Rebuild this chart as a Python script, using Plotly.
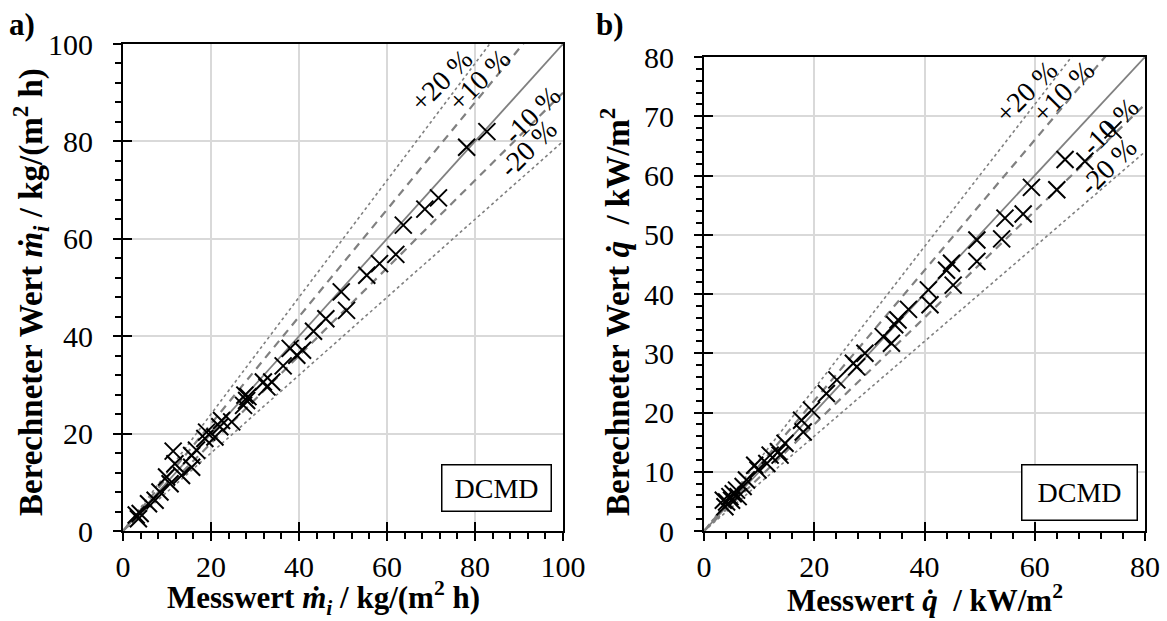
import plotly.graph_objects as go

# ---------------- data ----------------
# a) mass flux, measured vs calculated  (kg/(m2 h))
mi_measured = [82.7, 78.1, 71.7, 68.6, 63.7, 62.0, 58.3, 55.4, 49.6, 50.8, 46.1, 43.3,
               40.8, 38.0, 39.5, 36.4, 32.7, 31.9, 27.7, 28.1, 27.4, 28.4, 24.7, 22.4,
               22.0, 20.9, 19.0, 18.6, 16.7, 15.6, 15.6, 11.4, 11.8, 9.9, 10.7, 13.3,
               8.4, 7.3, 5.8, 3.9, 3.5, 3.0, 33.8]
mi_calculated = [82.0, 78.8, 68.4, 66.1, 62.8, 56.8, 54.9, 52.5, 49.1, 45.3, 43.6, 41.0,
                 37.1, 37.5, 36.1, 33.9, 29.6, 30.6, 27.9, 26.8, 25.8, 27.6, 22.4, 22.7,
                 21.4, 19.3, 20.3, 19.0, 16.6, 15.5, 13.1, 16.4, 13.8, 11.1, 9.7, 11.4,
                 8.0, 6.3, 5.6, 3.6, 2.5, 3.3, 30.6]

# b) heat flux, measured vs calculated  (kW/m2)
q_measured = [74.2, 69.1, 65.5, 64.0, 59.4, 57.9, 54.6, 54.0, 49.5, 49.5, 44.9, 44.0,
              45.2, 40.7, 41.0, 37.1, 35.2, 34.6, 34.0, 32.5, 29.2, 27.7, 27.1, 24.1,
              22.2, 19.5, 17.7, 18.0, 14.7, 13.5, 13.8, 12.0, 11.4, 9.8, 9.2, 7.7,
              7.1, 5.9, 5.3, 5.0, 4.1, 3.8, 6.2, 4.7, 3.5]
q_calculated = [67.7, 62.4, 62.7, 57.6, 58.0, 53.5, 52.8, 49.3, 49.1, 45.5, 45.2, 44.0,
                41.5, 40.7, 38.2, 37.4, 35.6, 34.8, 31.7, 32.8, 30.0, 27.7, 28.3, 25.5,
                23.2, 20.4, 18.7, 16.7, 14.8, 13.4, 12.8, 12.8, 11.4, 10.3, 11.1, 8.6,
                7.5, 6.9, 6.3, 5.2, 4.9, 4.1, 5.8, 5.8, 5.2]

# deviation bands
band_factors = [1.2, 1.1, 1.0, 0.9, 0.8]
band_labels = ["+20 %", "+10 %", None, "-10 %", "-20 %"]
range_a = [0, 100]
range_b = [0, 80]

# label anchor points (data coords) for band texts
label_pos_a = {"+20 %": (72.3, 92.6), "+10 %": (80.8, 92.6), "-10 %": (93.0, 85.5), "-20 %": (92.0, 78.6)}
label_pos_b = {"+20 %": (58.5, 74.2), "+10 %": (65.2, 74.2), "-10 %": (73.6, 68.3), "-20 %": (73.3, 61.5)}

FONT = "Liberation Serif, Times New Roman, serif"
GRAY = "#808080"

fig = go.Figure()

def band_style(k):
    if k == 1.0:
        return dict(color=GRAY, width=1.8, dash="solid")
    if abs(k - 1.0) < 0.15:
        return dict(color=GRAY, width=2.2, dash="8px,6px")
    return dict(color=GRAY, width=1.6, dash="dot")

for xa, ya, rng in (("x", "y", range_a), ("x2", "y2", range_b)):
    for k in band_factors:
        fig.add_trace(go.Scatter(x=[rng[0], rng[1]], y=[k * rng[0], k * rng[1]],
                                 mode="lines", line=band_style(k), xaxis=xa, yaxis=ya,
                                 hoverinfo="skip", showlegend=False))

marker = dict(symbol="x-thin", size=17, color="black", line=dict(color="black", width=2))
fig.add_trace(go.Scatter(x=mi_measured, y=mi_calculated, mode="markers", marker=marker,
                         xaxis="x", yaxis="y", showlegend=False))
fig.add_trace(go.Scatter(x=q_measured, y=q_calculated, mode="markers", marker=marker,
                         xaxis="x2", yaxis="y2", showlegend=False))
# invisible traces to activate the overlay axes (inner half of major ticks)
fig.add_trace(go.Scatter(x=[-50], y=[-50], mode="markers", marker=dict(opacity=0),
                         xaxis="x3", yaxis="y3", showlegend=False, hoverinfo="skip"))
fig.add_trace(go.Scatter(x=[-50], y=[-50], mode="markers", marker=dict(opacity=0),
                         xaxis="x4", yaxis="y4", showlegend=False, hoverinfo="skip"))

tickfont = dict(family=FONT, size=30, color="black")

def main_axis(domain, rng, dtick, minor_dtick, anchor, standoff):
    return dict(domain=domain, range=rng, dtick=dtick, anchor=anchor, automargin=False,
                showline=True, linecolor="black", linewidth=2, mirror=True,
                ticks="outside", ticklen=8, tickwidth=2, tickcolor="black",
                minor=dict(dtick=minor_dtick, ticks="outside", ticklen=6, tickwidth=1.5,
                           tickcolor="black", showgrid=False),
                showgrid=True, gridcolor="#d9d9d9", gridwidth=2, zeroline=False,
                tickfont=tickfont, fixedrange=True, layer="above traces",
                ticklabelstandoff=standoff)

def inner_axis(overlay, anchor, rng, dtick, side):
    return dict(overlaying=overlay, anchor=anchor, range=rng, dtick=dtick, side=side,
                automargin=False, ticks="inside", ticklen=9, tickwidth=2, tickcolor="black",
                showticklabels=False, showgrid=False, showline=False, zeroline=False,
                fixedrange=True, layer="above traces")

xa_dom = [123 / 1167, 563 / 1167]
xb_dom = [704 / 1167, 1145 / 1167]
ya_dom = [1 - 531 / 621, 1 - 44 / 621]
yb_dom = [1 - 531 / 621, 1 - 57 / 621]

fig.update_layout(
    template="none",
    width=1167, height=621, autosize=False,
    margin=dict(l=0, r=0, t=0, b=0, autoexpand=False),
    paper_bgcolor="white", plot_bgcolor="white",
    font=dict(family=FONT, color="black"),
    showlegend=False,
    xaxis=main_axis(xa_dom, range_a, 20, 4, "y", 0),
    yaxis=main_axis(ya_dom, range_a, 20, 4, "x", 14),
    xaxis2=main_axis(xb_dom, range_b, 20, 4, "y2", 0),
    yaxis2=main_axis(yb_dom, range_b, 10, 2, "x2", 14),
    xaxis3=inner_axis("x", "y", range_a, 20, "bottom"),
    yaxis3=inner_axis("y", "x", range_a, 20, "left"),
    xaxis4=inner_axis("x2", "y2", range_b, 20, "bottom"),
    yaxis4=inner_axis("y2", "x2", range_b, 10, "left"),
)

ann = []
# band labels
for lbl in band_labels:
    if lbl is None:
        continue
    for (xr, yr, pos) in (("x", "y", label_pos_a), ("x2", "y2", label_pos_b)):
        px, py = pos[lbl]
        ann.append(dict(x=px, y=py, xref=xr, yref=yr, text=lbl, showarrow=False,
                        textangle=-45, font=dict(family=FONT, size=28, color="black"),
                        xanchor="center", yanchor="middle"))

# DCMD boxes
ann.append(dict(x=496 / 1167, y=1 - 488 / 621, xref="paper", yref="paper", text="DCMD",
                showarrow=False, font=dict(family=FONT, size=28, color="black"),
                bordercolor="black", borderwidth=1.5, borderpad=2, bgcolor="white",
                width=104, height=41, xanchor="center", yanchor="middle"))
ann.append(dict(x=1079 / 1167, y=1 - 492 / 621, xref="paper", yref="paper", text="DCMD",
                showarrow=False, font=dict(family=FONT, size=28, color="black"),
                bordercolor="black", borderwidth=1.5, borderpad=2, bgcolor="white",
                width=110, height=50, xanchor="center", yanchor="middle"))

xtitlefont = dict(family=FONT, size=31, color="black")
ytitlefont = dict(family=FONT, size=33, color="black")
# axis titles
ann.append(dict(x=323 / 1167, y=1 - 598 / 621, xref="paper", yref="paper",
                text="<b>Messwert <i>ṁ<sub>i</sub></i> / kg/(m<sup>2</sup> h)</b>",
                showarrow=False, font=xtitlefont, xanchor="center", yanchor="middle"))
ann.append(dict(x=925 / 1167, y=1 - 598 / 621, xref="paper", yref="paper",
                text="<b>Messwert <i>q̇</i>\u00a0 / kW/m<sup>2</sup></b>",
                showarrow=False, font=xtitlefont, xanchor="center", yanchor="middle"))
ann.append(dict(x=30 / 1167, y=1 - 292 / 621, xref="paper", yref="paper", textangle=-90,
                text="<b>Berechneter Wert <i>ṁ<sub>i</sub></i> / kg/(m<sup>2</sup> h)</b>",
                showarrow=False, font=ytitlefont, xanchor="center", yanchor="middle"))
ann.append(dict(x=615 / 1167, y=1 - 312 / 621, xref="paper", yref="paper", textangle=-90,
                text="<b>Berechneter Wert <i>q̇</i>\u00a0 / kW/m<sup>2</sup></b>",
                showarrow=False, font=ytitlefont, xanchor="center", yanchor="middle"))
# panel letters
ann.append(dict(x=22 / 1167, y=1 - 25 / 621, xref="paper", yref="paper", text="<b>a)</b>",
                showarrow=False, font=xtitlefont, xanchor="center", yanchor="middle"))
ann.append(dict(x=610 / 1167, y=1 - 25 / 621, xref="paper", yref="paper", text="<b>b)</b>",
                showarrow=False, font=xtitlefont, xanchor="center", yanchor="middle"))

fig.update_layout(annotations=ann)
fig.write_html("out.html")
